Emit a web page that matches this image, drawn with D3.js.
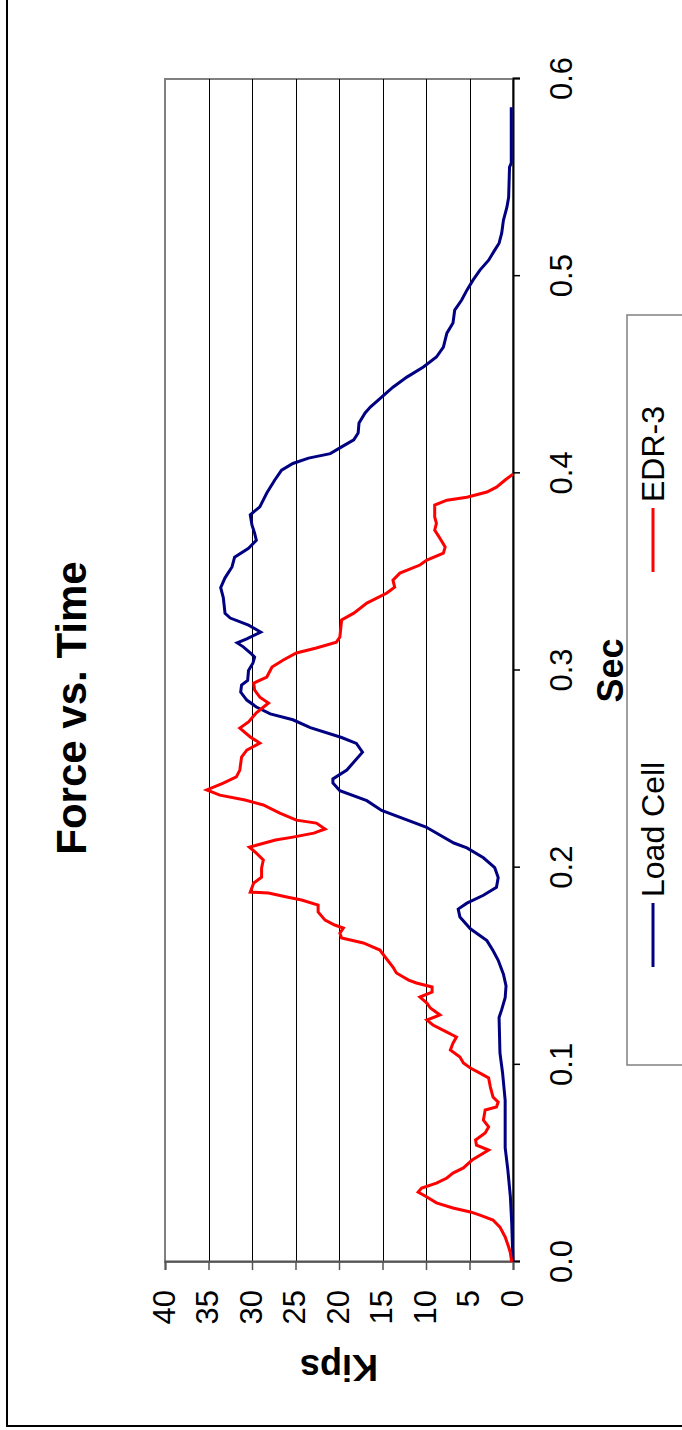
<!DOCTYPE html>
<html>
<head>
<meta charset="utf-8">
<script src="https://cdn.jsdelivr.net/npm/d3@7"></script>
<style>
  html, body { margin: 0; padding: 0; background: #fff; }
  svg { display: block; }
  text { font-family: "Liberation Sans", Arial, sans-serif; fill: #000; }
</style>
</head>
<body>
<script>
// Force vs. Time test record: load cell and EDR-3 readings (kips) against time (s)
const loadCellTime = [0, 0.02, 0.033, 0.047, 0.058, 0.082, 0.096, 0.106, 0.124, 0.128, 0.134, 0.14, 0.146, 0.153, 0.158, 0.163, 0.169, 0.175, 0.179, 0.182, 0.186, 0.19, 0.195, 0.2, 0.205, 0.21, 0.2125, 0.2206, 0.229, 0.234, 0.239, 0.243, 0.245, 0.2495, 0.2586, 0.263, 0.266, 0.271, 0.275, 0.278, 0.2815, 0.285, 0.289, 0.2926, 0.295, 0.3, 0.3037, 0.3068, 0.309, 0.312, 0.314, 0.316, 0.3195, 0.323, 0.3266, 0.329, 0.337, 0.342, 0.347, 0.3525, 0.3575, 0.362, 0.366, 0.3697, 0.3737, 0.379, 0.383, 0.39, 0.3965, 0.4016, 0.405, 0.4077, 0.41, 0.4134, 0.417, 0.4204, 0.4255, 0.4306, 0.4336, 0.4387, 0.4437, 0.4488, 0.4539, 0.459, 0.464, 0.4711, 0.4762, 0.4828, 0.4879, 0.4929, 0.498, 0.5031, 0.5081, 0.5132, 0.5167, 0.5218, 0.5284, 0.535, 0.54, 0.5553, 0.5573, 0.5857];
const loadCellKips = [0, 0.15, 0.3, 0.6, 0.9, 0.9, 1.2, 1.5, 1.6, 1.3, 0.9, 0.8, 1.1, 1.7, 2.3, 3.0, 4.9, 6.1, 6.3, 5.3, 3.4, 1.9, 1.7, 2.1, 3.4, 5.3, 6.8, 10.0, 15.1, 16.8, 19.9, 20.7, 20.7, 19.1, 17.3, 18.0, 19.7, 23.3, 25.3, 27.9, 29.5, 30.6, 31.3, 31.2, 30.5, 30.4, 29.9, 29.7, 30.2, 31.0, 31.7, 30.6, 29.0, 30.4, 32.5, 33.1, 33.3, 33.6, 33.1, 32.3, 32.0, 30.4, 29.5, 29.7, 30.0, 30.2, 29.1, 28.3, 27.4, 26.6, 25.3, 23.5, 21.0, 19.7, 18.3, 17.8, 17.7, 17.0, 16.4, 15.1, 13.8, 12.2, 10.3, 8.8, 8.0, 7.6, 6.9, 6.7, 5.9, 5.3, 4.6, 3.8, 2.8, 2.1, 1.6, 1.3, 1.1, 0.7, 0.5, 0.4, 0.2, 0.2];

const edrTime = [0, 0.0046, 0.0076, 0.0127, 0.0177, 0.0213, 0.0238, 0.0254, 0.0274, 0.03, 0.033, 0.0355, 0.0375, 0.04, 0.0426, 0.0451, 0.0477, 0.0517, 0.0568, 0.0593, 0.0619, 0.0654, 0.0685, 0.072, 0.0771, 0.0786, 0.0811, 0.0837, 0.0887, 0.0933, 0.0958, 0.0984, 0.1009, 0.104, 0.1075, 0.111, 0.1141, 0.1166, 0.1202, 0.1227, 0.1253, 0.1288, 0.1313, 0.1344, 0.1369, 0.1395, 0.1415, 0.143, 0.1466, 0.1496, 0.1547, 0.1582, 0.1618, 0.1643, 0.1668, 0.1694, 0.1709, 0.1734, 0.1775, 0.181, 0.1836, 0.1851, 0.1871, 0.1876, 0.1922, 0.1952, 0.1998, 0.2039, 0.2074, 0.2104, 0.214, 0.2155, 0.2175, 0.2196, 0.2226, 0.2241, 0.2277, 0.2318, 0.2343, 0.2368, 0.2394, 0.2429, 0.246, 0.2495, 0.2561, 0.2596, 0.2632, 0.2663, 0.2708, 0.2739, 0.2785, 0.2835, 0.2865, 0.2901, 0.2936, 0.2967, 0.3018, 0.3053, 0.3089, 0.3114, 0.3144, 0.317, 0.3256, 0.3291, 0.3342, 0.3393, 0.3423, 0.3458, 0.3494, 0.3535, 0.356, 0.3595, 0.3626, 0.3671, 0.3712, 0.3747, 0.3778, 0.3839, 0.3864, 0.3879, 0.3905, 0.393, 0.3966, 0.3996];
const edrKips = [0.15, 0.3, 0.5, 0.9, 1.5, 2.3, 3.8, 4.9, 6.9, 8.8, 9.9, 10.9, 10.5, 8.8, 7.6, 6.9, 5.7, 4.7, 2.8, 4.2, 4.3, 3.2, 2.8, 3.4, 3.2, 1.9, 1.7, 2.3, 2.6, 2.8, 3.8, 4.9, 5.7, 6.1, 7.2, 6.9, 6.5, 7.6, 9.2, 9.9, 8.4, 9.5, 9.9, 10.7, 9.3, 9.3, 11.1, 12.0, 13.4, 13.8, 14.7, 15.3, 17.2, 19.7, 19.9, 19.5, 20.5, 21.6, 22.4, 22.4, 24.3, 26.0, 28.1, 30.2, 29.8, 28.9, 28.9, 28.7, 29.5, 30.3, 27.3, 25.3, 22.9, 21.6, 22.6, 24.9, 26.8, 28.7, 30.8, 33.7, 35.2, 33.3, 31.8, 31.4, 31.2, 30.6, 29.1, 30.2, 31.4, 30.4, 29.5, 28.1, 29.1, 29.7, 29.8, 28.3, 27.7, 26.4, 24.9, 22.6, 20.3, 19.9, 19.7, 18.3, 16.8, 14.5, 13.6, 13.8, 13.0, 10.7, 9.9, 8.0, 7.8, 8.4, 9.0, 8.8, 9.0, 9.0, 7.6, 5.3, 3.0, 1.9, 0.9, 0.0];

const seriesNames = ["Load Cell", "EDR-3"];
const seriesColors = ["#000080", "#ff0000"];
const timeTicks = [0, 0.1, 0.2, 0.3, 0.4, 0.5, 0.6];
const kipsTicks = [0, 5, 10, 15, 20, 25, 30, 35, 40];

// The chart is laid out landscape (W x H) and then turned a quarter turn
// counter-clockwise onto the portrait page.
const pageW = 682, pageH = 1430;
const W = pageH, H = pageW;
const plot = { left: 168, right: 1351, top: 165, bottom: 513 };

const svg = d3.select("body").append("svg")
  .attr("width", pageW).attr("height", pageH);

const chart = svg.append("g")
  .attr("transform", `translate(0,${pageH}) rotate(-90)`);

// chart area frame
chart.append("rect")
  .attr("x", 4).attr("y", 7)
  .attr("width", W + 20).attr("height", H + 20)
  .attr("fill", "#fff").attr("stroke", "#000").attr("stroke-width", 2);

const x = d3.scaleLinear().domain([0, 0.6]).range([plot.left, plot.right]);
const y = d3.scaleLinear().domain([0, 40]).range([plot.bottom, plot.top]);

// plot area background and border
chart.append("rect")
  .attr("x", plot.left).attr("y", plot.top)
  .attr("width", plot.right - plot.left).attr("height", plot.bottom - plot.top)
  .attr("fill", "#fff").attr("stroke", "#808080").attr("stroke-width", 2);

// horizontal gridlines at each kip tick
chart.append("g")
  .selectAll("line")
  .data(kipsTicks.filter(d => d > 0 && d < 40))
  .join("line")
  .attr("x1", plot.left).attr("x2", plot.right)
  .attr("y1", d => Math.round(y(d)) + 0.5).attr("y2", d => Math.round(y(d)) + 0.5)
  .attr("stroke", "#000").attr("stroke-width", 1);

// time axis
const xAxis = chart.append("g")
  .attr("transform", `translate(0,${plot.bottom})`)
  .call(d3.axisBottom(x).tickValues(timeTicks).tickFormat(d3.format(".1f")).tickSize(7).tickPadding(0));
xAxis.select(".domain").attr("stroke", "#000").attr("stroke-width", 2);
xAxis.selectAll(".tick line").attr("stroke", "#000").attr("stroke-width", 1.5);
xAxis.selectAll(".tick text")
  .attr("y", 59).attr("dy", null)
  .style("font-family", '"Liberation Sans", Arial, sans-serif')
  .style("font-size", "31px").attr("fill", "#000");

// kips axis
const yAxis = chart.append("g")
  .attr("transform", `translate(${plot.left},0)`)
  .call(d3.axisLeft(y).tickValues(kipsTicks).tickSize(8).tickPadding(0));
yAxis.select(".domain").attr("stroke", "#555").attr("stroke-width", 2);
yAxis.selectAll(".tick line").attr("stroke", "#555").attr("stroke-width", 1.5);
yAxis.selectAll(".tick text")
  .attr("x", -28).attr("dy", "0.3em")
  .style("font-family", '"Liberation Sans", Arial, sans-serif')
  .style("font-size", "31px").attr("fill", "#000");

// series lines
const series = [
  { name: seriesNames[0], color: seriesColors[0], t: loadCellTime, k: loadCellKips },
  { name: seriesNames[1], color: seriesColors[1], t: edrTime, k: edrKips }
];
const line = d3.line().x(d => x(d[0])).y(d => y(d[1]));
chart.append("g")
  .selectAll("path")
  .data(series)
  .join("path")
  .attr("d", s => line(d3.zip(s.t, s.k)))
  .attr("fill", "none")
  .attr("stroke", s => s.color)
  .attr("stroke-width", 3)
  .attr("stroke-linejoin", "miter");

// title and axis titles
chart.append("text")
  .attr("x", 722).attr("y", 86)
  .attr("text-anchor", "middle")
  .style("font-size", "42px").style("font-weight", "bold")
  .text("Force vs. Time");

chart.append("text")
  .attr("x", (plot.left + plot.right) / 2).attr("y", 623)
  .attr("text-anchor", "middle")
  .style("font-size", "36px").style("font-weight", "bold")
  .text("Sec");

chart.append("text")
  .attr("transform", `translate(75,${(plot.top + plot.bottom) / 2}) rotate(-90)`)
  .attr("text-anchor", "middle")
  .style("font-size", "36px").style("font-weight", "bold")
  .text("Kips");

// legend
const legend = chart.append("g");
legend.append("rect")
  .attr("x", 365).attr("y", 627)
  .attr("width", 750).attr("height", 100)
  .attr("fill", "#fff").attr("stroke", "#808080").attr("stroke-width", 1.5);

const legendX = d3.scalePoint().domain(seriesNames).range([463, 858]);
const entry = legend.selectAll("g.entry")
  .data(series)
  .join("g")
  .attr("class", "entry")
  .attr("transform", s => `translate(${legendX(s.name)},0)`);
entry.append("line")
  .attr("x1", 0).attr("x2", 64)
  .attr("y1", 653).attr("y2", 653)
  .attr("stroke", s => s.color).attr("stroke-width", 3);
entry.append("text")
  .attr("x", 70).attr("y", 664)
  .style("font-size", "32px")
  .text(s => s.name);
</script>
</body>
</html>
